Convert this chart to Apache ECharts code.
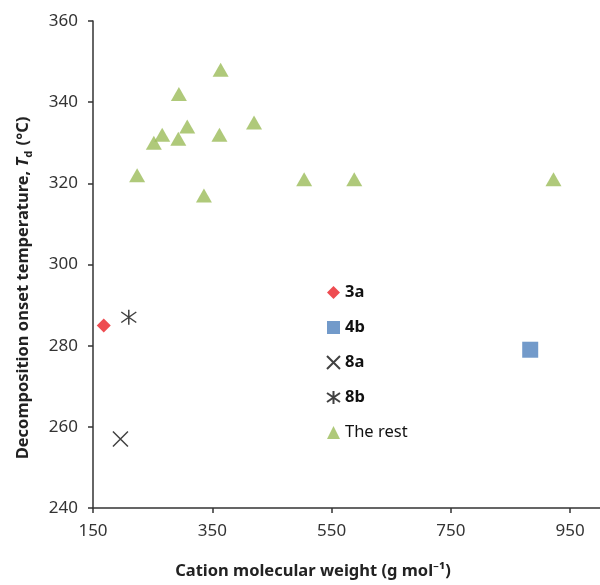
<!DOCTYPE html>
<html>
<head>
<meta charset="utf-8">
<script src="https://cdn.jsdelivr.net/npm/echarts@6/dist/echarts.min.js"></script>
<style>html,body{margin:0;padding:0;background:#fff}#c{width:600px;height:585px}</style>
</head>
<body>
<div id="c"></div>
<script>
// Data (cation MW [g/mol], Td [°C])
const s3a = [[168, 285]];
const s4b = [[883, 279]];
const s8a = [[196, 257]];
const s8b = [[210, 287]];
const sRest = [
  [364, 348], [294, 342], [308, 334], [266, 332], [252, 330],
  [293, 331], [362, 332], [420, 335], [224, 322], [336, 317],
  [504, 321], [588, 321], [922, 321]
];
const seriesNames = ['3a', '4b', '8a', '8b', 'The rest'];
const xTicks = [150, 350, 550, 750, 950];
const yTicks = [240, 260, 280, 300, 320, 340, 360];

const FONT = '"Noto Sans", "Open Sans", sans-serif';
const chart = echarts.init(document.getElementById('c'), null, {renderer: 'canvas'});
const X_PATH = 'path://M0,0L10,10M10,0L0,10';
const AST_PATH = 'path://M0,1.5L10,8.5M10,1.5L0,8.5M5,0L5,10';

chart.setOption({
  animation: false,
  backgroundColor: '#fff',
  grid: {left: 93, top: 21, right: -11, bottom: 73, containLabel: false},
  xAxis: {
    type: 'value', min: xTicks[0], max: 1000, interval: 200,
    name: 'Cation molecular weight (g mol\u207B\u00B9)',
    nameLocation: 'middle', nameGap: 55,
    nameTextStyle: {fontFamily: FONT, fontSize: 16.5, fontWeight: 'bold', color: '#222', padding: [0, 67, 0, 0]},
    axisLine: {show: true, onZero: false, lineStyle: {color: '#333', width: 1.5}},
    axisTick: {show: true, inside: false, length: 5, lineStyle: {color: '#333', width: 1.5}},
    axisLabel: {fontFamily: FONT, fontSize: 17, color: '#333', margin: 15, showMaxLabel: false,
      formatter: v => xTicks.indexOf(v) >= 0 ? String(v) : ''},
    splitLine: {show: false}
  },
  yAxis: {
    type: 'value', min: yTicks[0], max: yTicks[yTicks.length - 1], interval: 20,
    name: '{b|Decomposition onset temperature, }{i|T}{s|d}{b| (\u00B0C)}',
    nameLocation: 'middle', nameGap: 59, nameRotate: 90,
    nameTextStyle: {
      fontFamily: FONT, fontSize: 16.5, fontWeight: 'bold', color: '#222', padding: [0, 47, 0, 0],
      rich: {
        b: {fontFamily: FONT, fontSize: 16.5, fontWeight: 'bold', color: '#222', lineHeight: 22},
        i: {fontFamily: FONT, fontSize: 16.5, fontWeight: 'bold', fontStyle: 'italic', color: '#222', lineHeight: 22},
        s: {fontFamily: FONT, fontSize: 11, fontWeight: 'bold', color: '#222', lineHeight: 22, verticalAlign: 'bottom', padding: [6, 1, 0, 0]}
      }
    },
    axisLine: {show: true, onZero: false, lineStyle: {color: '#333', width: 1.5}},
    axisTick: {show: true, inside: false, length: 5, lineStyle: {color: '#333', width: 1.5}},
    axisLabel: {fontFamily: FONT, fontSize: 17, color: '#333', margin: 15},
    splitLine: {show: false}
  },
  legend: {
    orient: 'vertical', left: 326, top: 284, padding: 0,
    itemWidth: 13, itemHeight: 13, itemGap: 18,
    textStyle: {fontFamily: FONT, fontSize: 16.5, color: '#111', lineHeight: 17},
    data: [
      {name: '3a', textStyle: {fontWeight: 'bold'}},
      {name: '4b', textStyle: {fontWeight: 'bold'}},
      {name: '8a', textStyle: {fontWeight: 'bold'}},
      {name: '8b', textStyle: {fontWeight: 'bold'}},
      {name: 'The rest', textStyle: {fontWeight: 'normal'}}
    ]
  },
  series: [
    {name: seriesNames[0], type: 'scatter', data: s3a, symbol: 'diamond', symbolSize: 14,
      itemStyle: {color: '#ea1f25'}},
    {name: seriesNames[1], type: 'scatter', data: s4b, symbol: 'rect', symbolSize: 16,
      itemStyle: {color: '#4f81bd'}},
    {name: seriesNames[2], type: 'scatter', data: s8a, symbol: X_PATH, symbolSize: 15,
      itemStyle: {color: 'rgba(0,0,0,0)', borderColor: '#111', borderWidth: 1.5}},
    {name: seriesNames[3], type: 'scatter', data: s8b, symbol: AST_PATH, symbolSize: 15,
      itemStyle: {color: 'rgba(0,0,0,0)', borderColor: '#111', borderWidth: 1.5}},
    {name: seriesNames[4], type: 'scatter', data: sRest, symbol: 'triangle', symbolSize: [16, 14],
      itemStyle: {color: '#9bbb59'}}
  ]
});
</script>
</body>
</html>
